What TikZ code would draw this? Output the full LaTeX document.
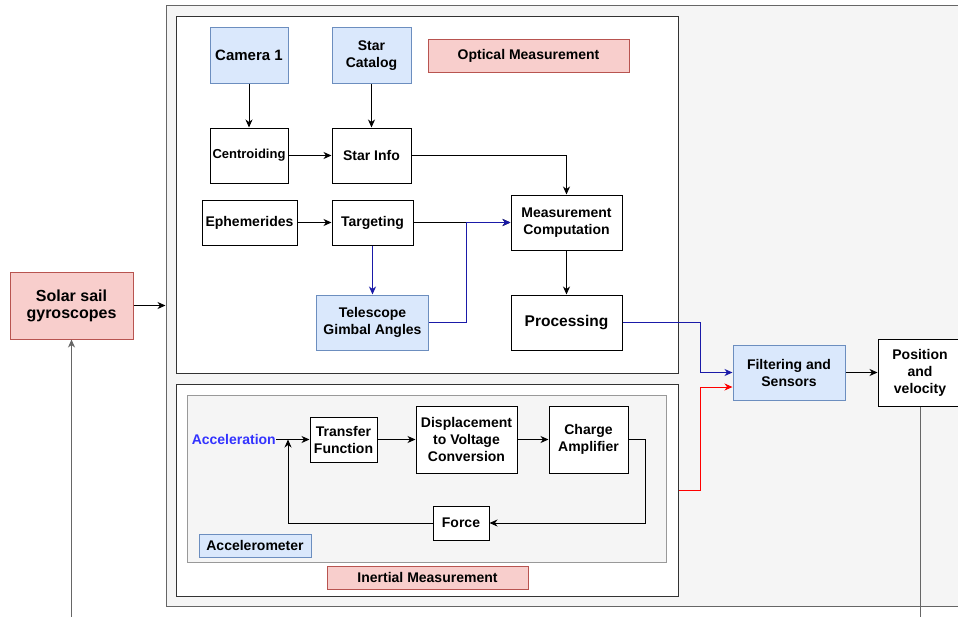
\documentclass[tikz,border=0pt]{standalone}
\usepackage{fontspec}
\setmainfont{Liberation Sans}
\usetikzlibrary{arrows.meta}
\definecolor{bfill}{HTML}{DAE8FC}
\definecolor{bdraw}{HTML}{6C8EBF}
\definecolor{rfill}{HTML}{F8CECC}
\definecolor{rdraw}{HTML}{B85450}
\definecolor{gfill}{HTML}{F5F5F5}
\definecolor{gdraw}{HTML}{666666}
\definecolor{adraw}{HTML}{999999}
\definecolor{bline}{HTML}{1A1AA8}
\definecolor{acctext}{HTML}{3333FF}
\tikzset{
  fs/.style={font=\bfseries\fontsize{#1}{17}\selectfont},
  box/.style={draw=black, fill=white, line width=1pt, inner sep=0pt, align=center, fs=14},
  bbox/.style={box, draw=bdraw, fill=bfill},
  rbox/.style={box, draw=rdraw, fill=rfill},
  sz/.style n args={2}{minimum width=#1pt, minimum height=#2pt},
  arr/.style={line width=1pt, -{Stealth[length=8pt,width=7pt,inset=2.5pt]}},
  conn/.style={line width=1pt},
}
\begin{document}
\begin{tikzpicture}[x=1pt,y=-1pt]
\useasboundingbox (0,0) rectangle (958,616);
\clip (0,0) rectangle (958,616);
% containers
\node[draw=gdraw, fill=gfill, line width=1pt, sz={809}{601}, inner sep=0pt] (outer) at (570.5,305.5) {};
\node[draw=black!80, fill=white, line width=1pt, sz={502}{357}, inner sep=0pt] (optb) at (427,194.5) {};
\node[draw=black!80, fill=white, line width=1pt, sz={502}{212}, inner sep=0pt] (inert) at (427,490) {};
\node[draw=adraw, fill=gfill, line width=1pt, sz={479}{167}, inner sep=0pt] (accb) at (426.5,478.5) {};
% optical nodes
\node[bbox, sz={78}{56}, fs=15] (cam) at (249,55.5) {Camera 1};
\node[bbox, sz={79}{56}] (cat) at (371.5,55.5) {Star\\Catalog};
\node[rbox, sz={201}{33}] (opt) at (528.5,55.5) {Optical Measurement};
\node[box, sz={78}{55}, fs=13] (cen) at (249,155.5) {Centroiding};
\node[box, sz={79}{55}] (sinfo) at (371.5,155.5) {Star Info};
\node[box, sz={95}{45}] (eph) at (249.5,222.5) {Ephemerides};
\node[box, sz={81}{45}] (tgt) at (372.5,222.5) {Targeting};
\node[box, sz={111}{55}] (mc) at (566.5,222.5) {Measurement\\Computation};
\node[bbox, sz={112}{55}] (tel) at (372.5,322.5) {Telescope\\Gimbal Angles};
\node[box, sz={111}{55}, fs=15.5] (proc) at (566.5,322.5) {Processing};
% right side
\node[bbox, sz={112}{55}] (filt) at (789,372.5) {Filtering and\\Sensors};
\node[box, sz={84}{67}] (pos) at (920,372.5) {Position\\and\\velocity};
\node[rbox, sz={123}{67}, fs=16] (sol) at (71.5,305.5) {Solar sail\\gyroscopes};
% inertial nodes
\node[box, sz={67}{45}] (tf) at (343.5,439.5) {Transfer\\Function};
\node[box, sz={101}{67}] (dvc) at (466.5,439.5) {Displacement\\to Voltage\\Conversion};
\node[box, sz={79}{67}] (ca) at (588.5,439.5) {Charge\\Amplifier};
\node[box, sz={56}{34}] (force) at (461,523) {Force};
\node[bbox, sz={112}{23}] (accl) at (255,545.5) {Accelerometer};
\node[rbox, sz={201}{23}] (inm) at (427.5,577.5) {Inertial Measurement};
\node[fs=14, text=acctext, inner sep=0pt, anchor=east] (acc) at (276,439.5) {Acceleration};
\coordinate (fb) at (288,439.5);
\coordinate (caR) at (645,439.5);
\coordinate (tj) at (466,322.5);
\coordinate (pj) at (700,322.5);
\coordinate (rj) at (700,490);
\coordinate (pbot) at (920,620);
\coordinate (sbot) at (71.5,620);
% optical connectors
\draw[arr] (cam) -- (cen);
\draw[arr] (cat) -- (sinfo);
\draw[arr] (cen) -- (sinfo);
\draw[arr] (sinfo.east) -| (mc.north);
\draw[arr] (eph) -- (tgt);
\draw[arr] (tgt) -- (mc);
\draw[arr, bline] (tgt) -- (tel);
\draw[arr, bline] (tel.east) -- (tj) |- (mc.west);
\draw[arr] (mc) -- (proc);
% right side connectors
\draw[arr, bline] (proc.east) -- (pj) |- (filt.west);
\draw[arr, red] (inert.east) -- (rj) |- ([yshift=-14.5pt]filt.west);
\draw[arr] (filt) -- (pos);
\draw[arr] (sol.east) -- (sol.east -| outer.west);
\draw[conn, gdraw] (pos.south) -- (pbot);
\draw[arr, gdraw] (sbot) -- (sol.south);
% inertial connectors
\draw[arr] (acc.east) -- (tf.west);
\draw[arr] (tf) -- (dvc);
\draw[arr] (dvc) -- (ca);
\draw[arr] (ca.east) -- (caR) |- (force.east);
\draw[arr] (force.west) -| (fb);
\end{tikzpicture}
\end{document}
